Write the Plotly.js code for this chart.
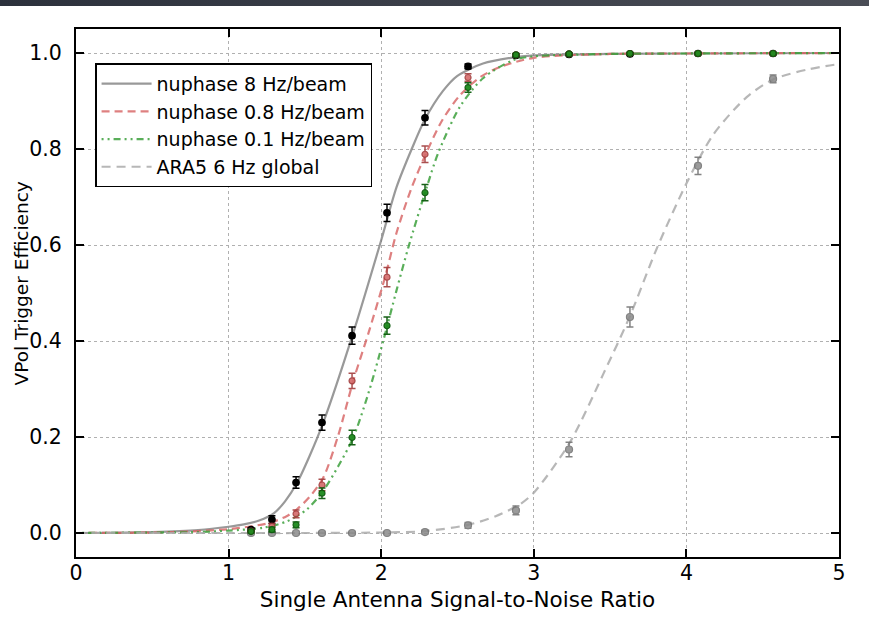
<!DOCTYPE html>
<html>
<head>
<meta charset="utf-8">
<script src="https://cdn.plot.ly/plotly-3.0.1.min.js"></script>
<style>
  html, body { margin: 0; padding: 0; background: #fff; }
  #topbar { position: absolute; left: 0; top: 0; width: 869px; height: 6px;
            background: linear-gradient(to right, #2c313c, #4a4d56); z-index: 10; }
  #chart { width: 869px; height: 620px; }
</style>
</head>
<body>
<div id="topbar"></div>
<div id="chart"></div>
<script>
// Measured SNR points
const snrPoints = [1.147, 1.284, 1.442, 1.612, 1.809, 2.038, 2.287, 2.569, 2.883, 3.231, 3.630, 4.076, 4.568];
const eff8Hz   = [0.007, 0.028, 0.105, 0.230, 0.411, 0.667, 0.865, 0.972, 0.995, 0.997, 0.998, 0.999, 0.999];
const err8Hz   = [0.004, 0.008, 0.012, 0.016, 0.018, 0.018, 0.015, 0.005, 0.003, 0.002, 0.002, 0.002, 0.002];
const eff08Hz  = [0.004, 0.014, 0.040, 0.100, 0.317, 0.533, 0.789, 0.949, 0.996, 0.998, 0.999, 0.999, 0.999];
const err08Hz  = [0.003, 0.006, 0.008, 0.012, 0.016, 0.020, 0.017, 0.008, 0.003, 0.002, 0.002, 0.002, 0.002];
const eff01Hz  = [0.003, 0.007, 0.017, 0.083, 0.199, 0.432, 0.709, 0.928, 0.996, 0.998, 0.999, 0.999, 0.999];
const err01Hz  = [0.003, 0.005, 0.006, 0.011, 0.015, 0.018, 0.017, 0.010, 0.003, 0.002, 0.002, 0.002, 0.002];
const effARA   = [0.000, 0.000, 0.000, 0.000, 0.000, 0.000, 0.002, 0.016, 0.047, 0.174, 0.450, 0.765, 0.946];
const errARA   = [0.003, 0.003, 0.003, 0.003, 0.003, 0.003, 0.004, 0.006, 0.009, 0.015, 0.021, 0.018, 0.008];

// Fit curves
const fit8X  = [0, 0.5, 0.8, 1.0, 1.1, 1.2, 1.3, 1.37, 1.446, 1.53, 1.62, 1.815, 2.0, 2.1, 2.2, 2.287, 2.405, 2.497, 2.667, 2.85, 3.0, 3.5, 4.0, 5.0];
const fit8Y  = [0, 0.002, 0.006, 0.013, 0.018, 0.026, 0.042, 0.066, 0.103, 0.16, 0.230, 0.415, 0.61, 0.72, 0.80, 0.862, 0.921, 0.952, 0.978, 0.99, 0.995, 0.998, 0.999, 1.0];
const fit08X = [0, 0.5, 0.8, 1.0, 1.15, 1.28, 1.38, 1.446, 1.53, 1.62, 1.72, 1.817, 1.92, 2.025, 2.1, 2.2, 2.3, 2.4, 2.516, 2.65, 2.78, 3.0, 3.5, 4.0, 5.0];
const fit08Y = [0, 0.001, 0.004, 0.008, 0.014, 0.022, 0.035, 0.049, 0.075, 0.115, 0.205, 0.317, 0.42, 0.533, 0.625, 0.72, 0.795, 0.86, 0.912, 0.95, 0.971, 0.99, 0.998, 0.999, 1.0];
const fit01X = [0, 0.5, 0.8, 1.0, 1.227, 1.38, 1.512, 1.62, 1.72, 1.817, 1.92, 2.014, 2.1, 2.178, 2.298, 2.374, 2.516, 2.669, 2.864, 3.0, 3.5, 4.0, 5.0];
const fit01Y = [0, 0.001, 0.002, 0.005, 0.011, 0.024, 0.049, 0.088, 0.14, 0.199, 0.295, 0.401, 0.505, 0.595, 0.72, 0.792, 0.888, 0.948, 0.985, 0.993, 0.998, 0.999, 1.0];
const fitAX  = [0, 1.0, 1.5, 2.0, 2.29, 2.57, 2.75, 2.91, 3.0, 3.237, 3.455, 3.63, 3.805, 4.0, 4.176, 4.395, 4.569, 4.8, 5.0];
const fitAY  = [0, 0, 0, 0.001, 0.004, 0.017, 0.035, 0.060, 0.084, 0.189, 0.331, 0.452, 0.592, 0.728, 0.83, 0.908, 0.945, 0.966, 0.977];

const legendNames = ['nuphase 8 Hz/beam', 'nuphase 0.8 Hz/beam', 'nuphase 0.1 Hz/beam', 'ARA5 6 Hz global'];
const xTicks = [0, 1, 2, 3, 4, 5];
const yTicks = [0.0, 0.2, 0.4, 0.6, 0.8, 1.0];
const xTitle = 'Single Antenna Signal-to-Noise Ratio';
const yTitle = 'VPol Trigger Efficiency';

function fitTrace(x, y, name, color, dash, width, group) {
  return { x: x, y: y, name: name, legendgroup: group, type: 'scatter', mode: 'lines',
           line: { color: color, dash: dash, width: width, shape: 'spline', smoothing: 0.8 },
           hoverinfo: 'skip' };
}
function pointTrace(y, err, fill, edge, size, opacity) {
  return { x: snrPoints, y: y, type: 'scatter', mode: 'markers', showlegend: false,
           opacity: opacity,
           marker: { color: fill, size: size, line: { color: edge, width: 1.2 } },
           error_y: { type: 'data', array: err, visible: true, color: edge, thickness: 1.5, width: 3.5 } };
}

const data = [
  fitTrace(fit8X, fit8Y, legendNames[0], 'rgba(128,128,128,0.8)', 'solid', 2.2, 'g1'),
  fitTrace(fit08X, fit08Y, legendNames[1], 'rgba(214,96,96,0.8)', '8px,5px', 2.2, 'g2'),
  fitTrace(fit01X, fit01Y, legendNames[2], 'rgba(60,160,60,0.85)', '2px,4px,2px,4px,7px,4px', 2.2, 'g3'),
  fitTrace(fitAX, fitAY, legendNames[3], 'rgba(170,170,170,0.85)', '9px,6px', 2.2, 'g4'),
  pointTrace(effARA, errARA, '#8a8a8a', '#6e6e6e', 7, 0.85),
  pointTrace(eff8Hz, err8Hz, '#000000', '#000000', 6.5, 1),
  pointTrace(eff08Hz, err08Hz, '#d46a6a', '#a23c3c', 6, 0.9),
  pointTrace(eff01Hz, err01Hz, '#1c8a1c', '#0b5a0b', 6, 0.95)
];

const axisCommon = {
  showline: true, linecolor: '#000', linewidth: 2, mirror: 'ticks',
  ticks: 'inside', ticklen: 8, tickwidth: 2, tickcolor: '#000',
  showgrid: true, gridcolor: '#b0b0b0', gridwidth: 1, griddash: 'dot',
  zeroline: false,
  tickfont: { family: 'DejaVu Sans', size: 20.5, color: '#000' }
};

const layout = {
  width: 869, height: 620,
  margin: { l: 76, r: 30, t: 29, b: 63 },
  paper_bgcolor: '#fff', plot_bgcolor: '#fff',
  showlegend: true,
  xaxis: Object.assign({}, axisCommon, {
    range: [0, 5], tickvals: xTicks, ticktext: xTicks.map(String),
    ticklabelstandoff: -4,
    title: { text: xTitle, font: { family: 'DejaVu Sans', size: 21.5, color: '#000' }, standoff: 8 }
  }),
  yaxis: Object.assign({}, axisCommon, {
    range: [-0.05, 1.05], tickvals: yTicks, ticktext: yTicks.map(v => v.toFixed(1)),
    ticklabelstandoff: 8
  }),
  annotations: [{
    text: yTitle, textangle: -90, showarrow: false,
    xref: 'paper', yref: 'paper', x: -0.0708, y: 0.518, xanchor: 'center', yanchor: 'middle',
    font: { family: 'DejaVu Sans', size: 18.5, color: '#000' }
  }],
  legend: {
    x: 0.025, y: 0.935, xanchor: 'left', yanchor: 'top',
    bgcolor: '#fff', bordercolor: '#000', borderwidth: 1.5,
    font: { family: 'DejaVu Sans', size: 19, color: '#000' },
    itemwidth: 50, tracegroupgap: 0
  }
};

Plotly.newPlot('chart', data, layout, { displayModeBar: false, staticPlot: true });
</script>
</body>
</html>
